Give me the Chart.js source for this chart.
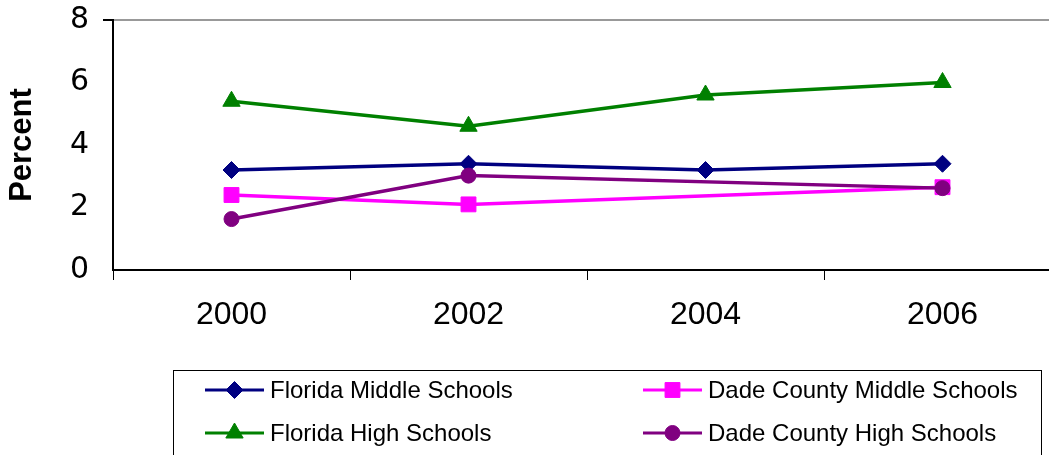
<!DOCTYPE html>
<html>
<head>
<meta charset="utf-8">
<script src="https://cdn.jsdelivr.net/npm/chart.js@4/dist/chart.umd.min.js"></script>
<style>
  html, body { margin: 0; padding: 0; background: #fff; overflow: hidden; }
  #wrap { width: 1100px; height: 480px; }
</style>
</head>
<body>
<div id="wrap"><canvas id="chart" width="1100" height="480"></canvas></div>
<script>
const years = ['2000', '2002', '2004', '2006'];
const floridaMiddle = [3.2, 3.4, 3.2, 3.4];
const dadeMiddle = [2.4, 2.1, null, 2.65];
const floridaHigh = [5.4, 4.6, 5.6, 6.0];
const dadeHigh = [1.63, 3.02, null, 2.62];
const yTicks = [0, 2, 4, 6, 8];

// legend drawn Excel style: line + marker, two columns in a box
const boxLegend = {
    id: 'boxLegend',
    afterDraw(chart) {
        const ctx = chart.ctx;
        ctx.save();
        ctx.strokeStyle = '#000';
        ctx.lineWidth = 1;
        ctx.strokeRect(173.5, 370.5, 868, 120);
        const cols = [205, 643];
        const rows = [390, 433];
        chart.data.datasets.forEach((ds, i) => {
            const x = cols[i % 2], y = rows[Math.floor(i / 2)];
            ctx.strokeStyle = ds.borderColor;
            ctx.lineWidth = 3;
            ctx.beginPath();
            ctx.moveTo(x, y);
            ctx.lineTo(x + 59, y);
            ctx.stroke();
            ctx.fillStyle = ds.backgroundColor;
            ctx.strokeStyle = ds.borderColor;
            ctx.lineWidth = 1;
            Chart.helpers.drawPoint(ctx, { pointStyle: ds.pointStyle, radius: ds.pointRadius, borderWidth: 1 }, x + 29.5, y);
            ctx.fillStyle = '#000';
            ctx.font = '24px "Liberation Sans", Arial, sans-serif';
            ctx.textBaseline = 'middle';
            ctx.fillText(ds.label, x + 65, y + 1);
        });
        ctx.restore();
    }
};

const mk = (label, data, color, style, r, order) => ({
    label, data,
    borderColor: color, backgroundColor: color,
    pointStyle: style, pointRadius: r, pointHoverRadius: r,
    pointBorderWidth: 1, borderWidth: 3.5,
    tension: 0, spanGaps: true, order
});

new Chart(document.getElementById('chart'), {
    type: 'line',
    data: {
        labels: years,
        datasets: [
            mk('Florida Middle Schools', floridaMiddle, '#000080', 'rectRot', 8.5, 4),
            mk('Dade County Middle Schools', dadeMiddle, '#FF00FF', 'rect', 10.5, 3),
            mk('Florida High Schools', floridaHigh, '#008000', 'triangle', 10, 2),
            mk('Dade County High Schools', dadeHigh, '#800080', 'circle', 7.5, 1)
        ]
    },
    options: {
        responsive: false,
        animation: false,
        layout: { padding: { left: 0, top: 20, right: 39, bottom: 130 } },
        plugins: { legend: { display: false }, tooltip: { enabled: false } },
        scales: {
            x: {
                offset: true,
                afterFit: s => { s.height = 80; s.paddingLeft = 0; s.paddingRight = 0; },
                grid: { offset: true, drawOnChartArea: false, tickLength: 10, color: '#000', lineWidth: 1 },
                border: { color: '#000', width: 2 },
                ticks: { color: '#000', padding: 16, font: { family: '"Liberation Sans", Arial', size: 32 } }
            },
            y: {
                min: 0, max: 8,
                afterFit: s => { s.width = 113; s.paddingTop = 0; s.paddingBottom = 0; },
                afterBuildTicks: s => { s.ticks = yTicks.map(v => ({ value: v })); },
                grid: {
                    color: c => c.tick && c.tick.value === 8 ? '#999' : 'transparent',
                    lineWidth: c => c.tick && c.tick.value === 8 ? 2 : 0,
                    tickColor: '#000', tickLength: 10
                },
                border: { color: '#000', width: 2 },
                ticks: { color: '#000', padding: 14, font: { family: '"DejaVu Sans"', size: 30 } },
                title: {
                    display: true, text: 'Percent', color: '#000',
                    padding: { top: 4, bottom: 0 },
                    font: { family: '"Liberation Sans", Arial', size: 31, weight: 'bold' }
                }
            }
        }
    },
    plugins: [boxLegend]
});
</script>
</body>
</html>
